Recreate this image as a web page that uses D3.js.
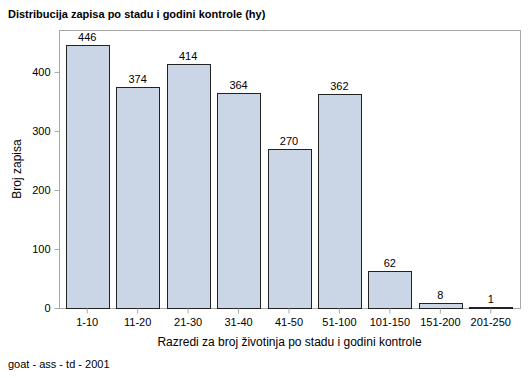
<!DOCTYPE html>
<html lang="en">
  <head>
    <meta charset="utf-8">
    <title></title>
    <script src="https://d3js.org/d3.v7.min.js"></script>
    <style>
      body { margin: 0; background: #fff; }
      text { font-family: "Liberation Sans", Arial, sans-serif; }
    </style>
  </head>
  <body>
    <script type="text/javascript">
    let w = 529;
    let h = 378;

    let categories = ["1-10", "11-20", "21-30", "31-40", "41-50", "51-100", "101-150", "151-200", "201-250"];
    let counts = [446, 374, 414, 364, 270, 362, 62, 8, 1];
    let yTicks = [0, 100, 200, 300, 400];

    let mLeft = 59, mRight = 520, mTop = 30, mBottom = 308;

    let svg = d3.select("body")
                .append("svg")
                .attr("width", w)
                .attr("height", h);

    let xScale = d3.scaleBand()
        .domain(categories)
        .range([62, 516])
        .paddingInner(0.15)
        .paddingOuter(0.075);

    let yScale = d3.scaleLinear()
        .domain([0, 471])
        .range([mBottom, mTop]);

    // frame
    svg.append("rect")
      .attr("x", mLeft + 0.5).attr("y", mTop + 0.5)
      .attr("width", mRight - mLeft).attr("height", mBottom - mTop)
      .attr("fill", "none").attr("stroke", "#a8a8a8");

    // bars
    svg.selectAll("rect.bar")
      .data(counts)
      .enter()
      .append("rect")
      .attr("class", "bar")
      .attr("x", (d, i) => Math.round(xScale(categories[i])) + 0.5)
      .attr("y", d => Math.round(yScale(d)) + 0.5)
      .attr("width", Math.round(xScale.bandwidth()))
      .attr("height", d => Math.round(mBottom - yScale(d)))
      .attr("fill", "#cad5e5")
      .attr("stroke", "#222")
      .attr("stroke-width", 1);

    svg.selectAll("text.val")
      .data(counts)
      .enter()
      .append("text")
      .attr("class", "val")
      .attr("x", (d, i) => xScale(categories[i]) + xScale.bandwidth() / 2)
      .attr("y", d => yScale(d) - 4)
      .attr("text-anchor", "middle")
      .attr("font-size", 11)
      .attr("fill", "#000")
      .text(d => d);

    // y axis
    let yAxis = d3.axisLeft(yScale).tickValues(yTicks).tickSize(5).tickPadding(4);
    let gy = svg.append("g").attr("transform", `translate(${mLeft + 0.5},0)`).call(yAxis);
    gy.select(".domain").remove();
    gy.selectAll("line").attr("stroke", "#a8a8a8");
    gy.selectAll("text").attr("font-size", 11).attr("fill", "#000").style("font-family", "Liberation Sans, Arial, sans-serif");

    // x axis
    let xAxis = d3.axisBottom(xScale).tickSize(5).tickPadding(5);
    let gx = svg.append("g").attr("transform", `translate(0,${mBottom + 0.5})`).call(xAxis);
    gx.select(".domain").remove();
    gx.selectAll("line").attr("stroke", "#a8a8a8");
    gx.selectAll("text").attr("font-size", 11).attr("fill", "#000").style("font-family", "Liberation Sans, Arial, sans-serif");

    // titles
    svg.append("text")
      .attr("x", 8).attr("y", 18)
      .attr("font-size", 11).attr("font-weight", "bold")
      .text("Distribucija zapisa po stadu i godini kontrole (hy)");

    svg.append("text")
      .attr("x", (mLeft + mRight) / 2).attr("y", 346)
      .attr("text-anchor", "middle")
      .attr("font-size", 12)
      .text("Razredi za broj životinja po stadu i godini kontrole");

    svg.append("text")
      .attr("transform", `translate(21,${(mTop + mBottom) / 2}) rotate(-90)`)
      .attr("text-anchor", "middle")
      .attr("font-size", 12)
      .text("Broj zapisa");

    svg.append("text")
      .attr("x", 8).attr("y", 368)
      .attr("font-size", 11)
      .text("goat - ass - td - 2001");
    </script>
  </body>
</html>
